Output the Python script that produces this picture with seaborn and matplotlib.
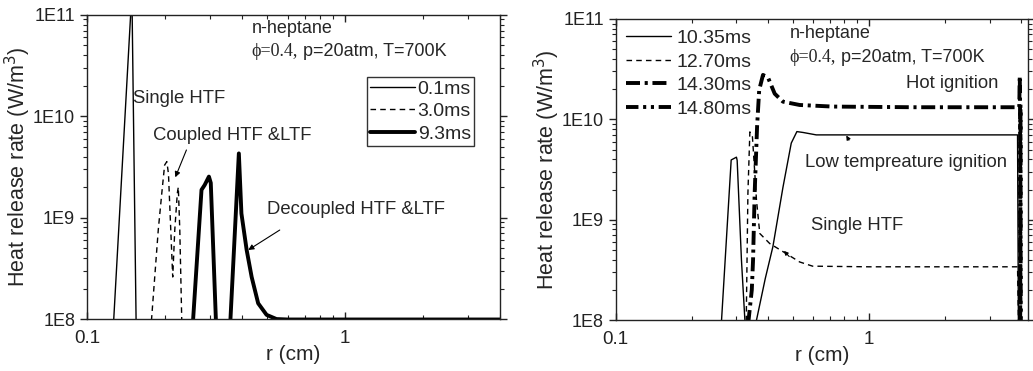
import numpy as np
import pandas as pd
import matplotlib
matplotlib.use("Agg")
import matplotlib.pyplot as plt
from matplotlib.ticker import LogLocator, FuncFormatter, NullFormatter
import seaborn as sns

# ---------------- data ----------------
# Left panel
l_01_r = [0.120, 0.127, 0.1485, 0.1495, 0.155, 0.160]
l_01_q = [4e7, 1e8, 1.3e11, 1.3e11, 1e8, 4e7]

l_30_r = [0.172, 0.178, 0.189, 0.195, 0.200, 0.204, 0.207, 0.210, 0.215, 0.219, 0.224, 0.226, 0.229, 0.233, 0.236]
l_30_q = [5e7, 1e8, 7.6e8, 1.74e9, 3.3e9, 3.57e9, 2.7e9, 1.1e9, 2.6e8, 7.6e8, 1.74e9, 2.0e9, 7.6e8, 1e8, 5e7]

l_93_r = [0.252, 0.258, 0.278, 0.286, 0.297, 0.302, 0.316, 0.322,
          0.354, 0.360, 0.388, 0.397, 0.416, 0.435, 0.461, 0.497, 0.543, 0.60, 1.0, 4.0]
l_93_q = [5e7, 1e8, 1.88e9, 2.1e9, 2.54e9, 2.2e9, 1e8, 5e7,
          5e7, 1e8, 4.3e9, 1.1e9, 4.8e8, 2.6e8, 1.43e8, 1.1e8, 1.0e8, 9.9e7, 9.9e7, 9.9e7]

left_labels = ["0.1ms", "3.0ms", "9.3ms"]

# Right panel
r_1035_r = [0.256, 0.262, 0.286, 0.300, 0.302, 0.314, 0.324, 0.330,
            0.354, 0.360, 0.390, 0.418, 0.458, 0.494, 0.520, 0.550, 0.620, 1.0, 2.0, 3.87, 3.90, 3.92]
r_1035_q = [5e7, 1e8, 3.94e9, 4.2e9, 3.9e9, 3.97e8, 1e8, 5e7,
            5e7, 1e8, 2.6e8, 5.4e8, 2.1e9, 5.8e9, 7.55e9, 7.4e9, 7.0e9, 7.0e9, 7.0e9, 7.0e9, 1e8, 5e7]

r_1270_r = [0.322, 0.328, 0.333, 0.339, 0.347, 0.354, 0.360, 0.371, 0.406, 0.472, 0.533, 0.600, 1.0, 2.0, 3.87, 3.90, 3.91]
r_1270_q = [5e7, 1e8, 1.83e9, 7.5e9, 6.7e9, 3.1e9, 1.57e9, 7.3e8, 5.8e8, 4.6e8, 3.8e8, 3.45e8, 3.4e8, 3.4e8, 3.4e8, 1e8, 5e7]

r_1430_r = [0.330, 0.335, 0.345, 0.349, 0.354, 0.362, 0.369, 0.382, 0.400, 0.425, 0.458, 0.533, 0.720, 1.5,
            3.87, 3.93, 3.95, 3.96, 3.97, 3.98]
r_1430_q = [5e7, 1e8, 2e8, 4e8, 1.8e9, 8.5e9, 1.96e10, 2.77e10, 2.6e10, 1.8e10, 1.5e10, 1.39e10, 1.34e10, 1.32e10,
            1.32e10, 1.32e10, 2.7e10, 1.2e10, 1e8, 5e7]

r_1480_r = [3.955, 3.965, 3.975, 3.985, 3.995]
r_1480_q = [5e7, 1e8, 1.4e10, 1e8, 5e7]

right_labels = ["10.35ms", "12.70ms", "14.30ms", "14.80ms"]

# ---------------- style ----------------
sns.set_style("ticks")
plt.rcParams["font.family"] = ["Liberation Sans", "DejaVu Sans"]
plt.rcParams["axes.linewidth"] = 1.0
plt.rcParams["axes.edgecolor"] = "#222222"

fig = plt.figure(figsize=(10.33, 3.71), dpi=100)
axL = fig.add_axes([0.0842, 0.140, 0.400, 0.820])
axR = fig.add_axes([0.596, 0.137, 0.399, 0.812])

DASH = (0, (4, 3))
DASHDOT = (0, (3.6, 1.2, 0.8, 1.2))
DASHDOTDOT = (0, (3.2, 1.2, 0.8, 1.2, 0.8, 1.2))

def draw(ax, r, q, label, ls, lw):
    df = pd.DataFrame({"r": r, "q": q})
    sns.lineplot(data=df, x="r", y="q", ax=ax, estimator=None, sort=False,
                 color="black", linestyle=ls, linewidth=lw, label=label)

draw(axL, l_01_r, l_01_q, left_labels[0], "-", 1.0)
draw(axL, l_30_r, l_30_q, left_labels[1], DASH, 1.0)
draw(axL, l_93_r, l_93_q, left_labels[2], "-", 2.8)

draw(axR, r_1035_r, r_1035_q, right_labels[0], "-", 1.0)
draw(axR, r_1270_r, r_1270_q, right_labels[1], DASH, 1.0)
draw(axR, r_1430_r, r_1430_q, right_labels[2], DASHDOT, 2.8)
draw(axR, r_1480_r, r_1480_q, right_labels[3], DASHDOTDOT, 2.8)

def fmt(v, pos):
    e = int(round(np.log10(v)))
    return f"1E{e}"

def style_axes(ax, xmax):
    ax.set_xscale("log")
    ax.set_yscale("log")
    ax.set_xlim(0.1, xmax)
    ax.set_ylim(1e8, 1e11)
    ax.yaxis.set_major_locator(LogLocator(base=10, numticks=10))
    ax.yaxis.set_minor_locator(LogLocator(base=10, subs=np.arange(2, 10), numticks=10))
    ax.yaxis.set_major_formatter(FuncFormatter(fmt))
    ax.yaxis.set_minor_formatter(NullFormatter())
    ax.xaxis.set_major_formatter(FuncFormatter(lambda v, p: "0.1" if abs(v - 0.1) < 1e-9 else ("1" if abs(v - 1) < 1e-9 else "")))
    ax.xaxis.set_minor_formatter(NullFormatter())
    ax.tick_params(axis="x", which="both", direction="in", top=True, labelsize=13.5, colors="#222222")
    ax.tick_params(axis="y", which="both", direction="out", right=True, labelsize=13, colors="#222222")
    ax.tick_params(which="major", length=5, width=1)
    ax.tick_params(which="minor", length=3, width=0.8)
    ax.tick_params(axis="x", which="major", pad=8)
    ax.tick_params(axis="y", which="major", pad=3.5)
    for s in ax.spines.values():
        s.set_visible(True)
    ax.set_xlabel("r (cm)", fontsize=15)
    ax.set_ylabel("Heat release rate (W/m$^3$)", fontsize=15.5)
    ax.xaxis.set_label_coords(0.5, -0.118)
    ax.xaxis.label.set_va("center")
    ax.yaxis.set_label_coords(-0.166, 0.5)
    ax.yaxis.label.set_va("center")

style_axes(axL, 4.0)
style_axes(axR, 4.25)

# Legends
legL = axL.legend(loc="upper left", bbox_to_anchor=(0.678, 0.795), fontsize=14, frameon=True,
                  fancybox=False, edgecolor="#333333", framealpha=1, handlelength=2.3,
                  handletextpad=0.15, labelspacing=0.25, borderpad=0.15, borderaxespad=0)
legL.get_frame().set_linewidth(1.0)
axR.legend(loc="upper left", bbox_to_anchor=(0.0, 1.0), fontsize=14, frameon=False,
           handlelength=2.3, handletextpad=0.3, labelspacing=0.3, borderpad=0.45, borderaxespad=0.1)

def title_block(ax, x, y1, y2):
    ax.text(x, y1, "n-heptane", fontsize=13, va="center", ha="left")
    t = ax.text(x, y2, "\u03d5=0.4,", fontsize=13, va="center", ha="left",
                family=["Liberation Serif", "DejaVu Serif"])
    ax.annotate(" p=20atm, T=700K", xy=(1, 0), xycoords=t, va="bottom", ha="left", fontsize=13)

title_block(axL, 0.435, 7.4e10, 4.35e10)
title_block(axR, 0.487, 7.2e10, 4.1e10)

# Left annotations
FS = 13.3
axL.text(0.151, 1.5e10, "Single HTF", fontsize=FS, va="center", ha="left")
axL.text(0.180, 6.5e9, "Coupled HTF &LTF", fontsize=FS, va="center", ha="left")
axL.text(0.497, 1.19e9, "Decoupled HTF &LTF", fontsize=FS, va="center", ha="left")
axL.annotate("", xy=(0.220, 2.5e9), xytext=(0.243, 4.65e9),
             arrowprops=dict(arrowstyle="-|>", color="black", lw=0.8, mutation_scale=8, shrinkA=0, shrinkB=0))
axL.annotate("", xy=(0.422, 4.8e8), xytext=(0.559, 7.55e8),
             arrowprops=dict(arrowstyle="-|>", color="black", lw=0.8, mutation_scale=8, shrinkA=0, shrinkB=0))

# Right annotations
axR.text(1.40, 2.3e10, "Hot ignition", fontsize=FS, va="center", ha="left")
axR.text(0.562, 3.74e9, "Low tempreature ignition", fontsize=FS, va="center", ha="left")
axR.text(0.593, 8.7e8, "Single HTF", fontsize=FS, va="center", ha="left")
axR.annotate("", xy=(0.815, 6.9e9), xytext=(0.835, 6.2e9),
             arrowprops=dict(arrowstyle="-|>", color="black", lw=0.8, mutation_scale=6, shrinkA=0, shrinkB=0))
axR.annotate("", xy=(0.462, 4.9e8), xytext=(0.485, 4.3e8),
             arrowprops=dict(arrowstyle="-|>", color="black", lw=0.8, mutation_scale=6, shrinkA=0, shrinkB=0))

fig.savefig("out.png", dpi=100)
